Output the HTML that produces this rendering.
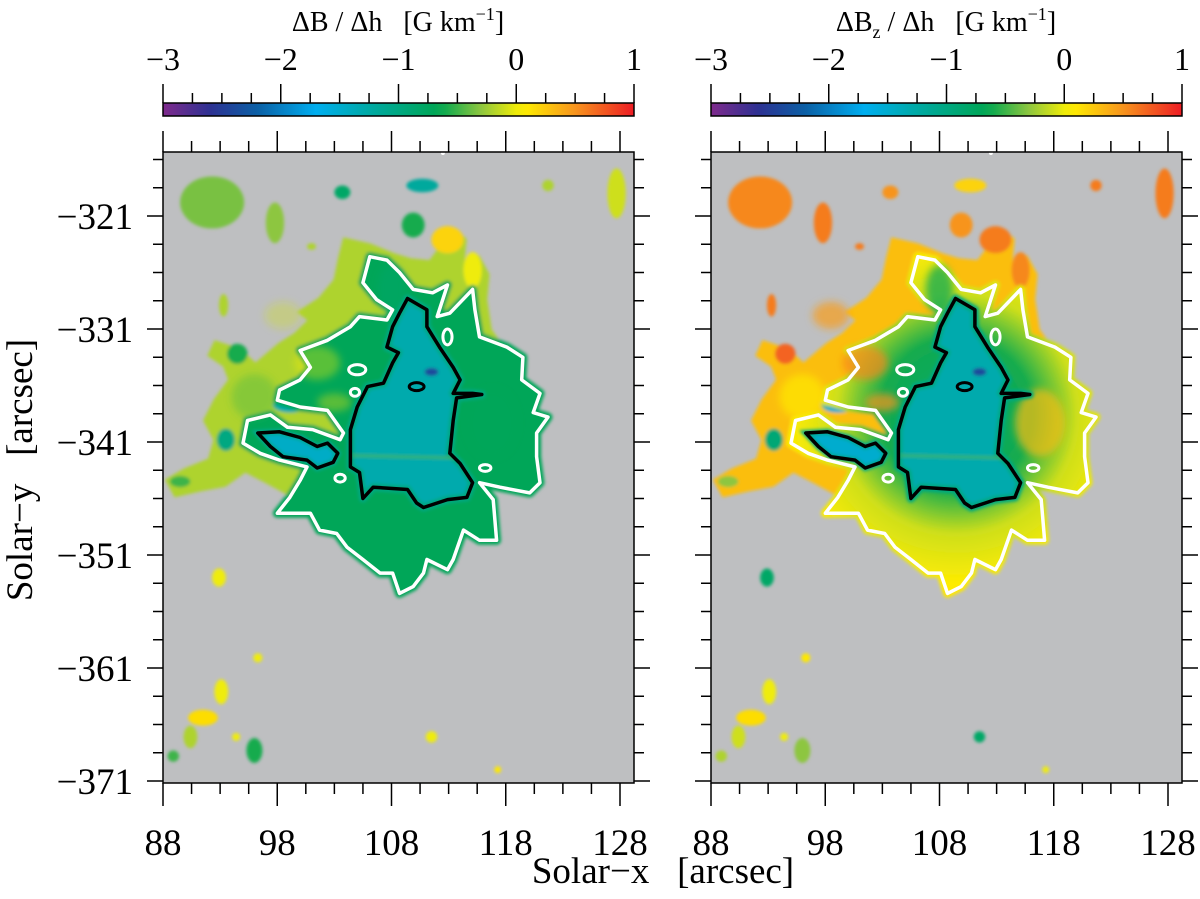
<!DOCTYPE html>
<html><head><meta charset="utf-8">
<style>
html,body{margin:0;padding:0;background:#fff;}
svg{display:block;font-family:"Liberation Serif","DejaVu Serif",serif;}
</style></head>
<body>
<svg id="fig" width="1200" height="899" viewBox="0 0 1200 899" xmlns="http://www.w3.org/2000/svg">
<defs>
<filter id="soft" x="-10%" y="-10%" width="120%" height="120%"><feGaussianBlur stdDeviation="1.6"/></filter>
<filter id="softer" x="-30%" y="-30%" width="160%" height="160%"><feGaussianBlur stdDeviation="4"/></filter>
</defs>
</svg>
<script>
// ---------- data (arcsec / G km^-1) ----------
const xTicks = [88, 98, 108, 118, 128];
const yTicks = [-321, -331, -341, -351, -361, -371];
const cbTicks = [-3, -2, -1, 0, 1];
const panelTitles = ["dB", "dBz"];

const whiteContour = [[106.1,-324.6],[107.6,-324.9],[108.7,-326.0],[109.9,-327.5],[111.6,-327.8],[112.9,-327.1],[112.0,-329.9],[113.1,-329.6],[115.1,-327.5],[115.3,-329.3],[115.7,-331.7],[118.1,-332.6],[119.5,-333.5],[119.4,-335.5],[121.0,-336.7],[120.4,-338.4],[121.7,-338.8],[120.7,-340.2],[120.7,-342.3],[121.0,-344.6],[120.1,-345.5],[117.5,-345.0],[115.7,-344.6],[116.9,-346.1],[117.2,-349.7],[115.7,-349.7],[114.3,-348.8],[113.4,-351.4],[112.9,-352.3],[111.1,-351.4],[110.8,-352.6],[109.9,-353.8],[108.7,-354.4],[108.1,-352.6],[107.0,-352.6],[105.5,-351.4],[104.1,-350.3],[103.2,-349.1],[101.7,-348.8],[100.9,-347.3],[98.0,-347.3],[99.1,-345.9],[100.0,-344.4],[100.6,-343.2],[98.2,-342.6],[96.5,-342.0],[95.0,-341.1],[95.4,-339.1],[97.4,-338.6],[98.9,-339.7],[101.1,-339.9],[103.5,-340.8],[103.8,-340.2],[102.4,-338.2],[100.0,-337.9],[98.0,-337.3],[98.2,-336.4],[100.0,-335.5],[100.9,-334.4],[100.0,-332.9],[102.4,-332.0],[104.4,-330.8],[105.2,-329.9],[107.6,-330.2],[108.1,-329.3],[106.7,-328.4],[105.5,-326.9]];
const umbraContour = [[109.4,-328.3],[111.1,-329.3],[111.1,-330.8],[112.2,-332.6],[113.4,-334.4],[114.0,-335.5],[113.4,-336.7],[115.1,-336.7],[115.9,-336.8],[113.7,-337.1],[113.4,-339.1],[113.1,-342.0],[114.0,-342.9],[115.1,-344.6],[114.6,-345.9],[112.9,-346.1],[110.8,-346.8],[110.2,-346.4],[109.4,-345.2],[106.4,-345.0],[105.5,-346.0],[105.2,-343.7],[104.4,-343.2],[104.4,-339.9],[105.0,-337.9],[105.9,-336.1],[107.3,-335.8],[108.1,-334.0],[108.6,-333.1],[107.6,-332.6],[108.1,-330.8],[108.7,-329.6]];
const islandContour = [[96.3,-340.2],[98.2,-340.1],[100.0,-340.6],[101.5,-341.4],[102.4,-341.1],[103.3,-342.0],[102.9,-342.8],[101.5,-343.3],[100.6,-342.6],[98.5,-342.3],[97.4,-341.4]];
const haloRegion = [[103.9,-323.1],[106.1,-323.6],[108.3,-324.5],[109.6,-324.9],[111.4,-325.1],[112.2,-324.0],[113.6,-322.4],[114.4,-323.1],[114.2,-325.3],[115.6,-324.7],[116.4,-326.2],[116.2,-328.4],[116.6,-331.1],[117.5,-332.4],[110.5,-337.3],[100.0,-346.1],[96.9,-344.4],[95.2,-343.5],[93.4,-344.8],[91.2,-345.2],[89.1,-345.7],[88.4,-344.4],[89.9,-343.5],[92.1,-342.6],[92.6,-340.8],[91.7,-339.1],[92.6,-337.3],[93.9,-335.5],[93.4,-334.2],[92.1,-333.3],[92.6,-332.2],[94.7,-332.9],[96.1,-334.2],[98.2,-332.4],[99.6,-331.5],[100.9,-330.2],[100.0,-329.5],[101.7,-328.4],[103.1,-326.7],[103.5,-324.7]];
const holeX = [105.0, 104.8, 103.5, 112.9, 116.2];
const holeY = [-334.6, -336.6, -344.2, -331.7, -343.3];
const holeRX = [0.75, 0.4, 0.45, 0.4, 0.5];
const holeRY = [0.45, 0.35, 0.35, 0.7, 0.3];
const loopX = [110.2], loopY = [-336.1], loopRX = [0.65], loopRY = [0.35];
const blobX  = [92.3, 97.8, 103.7, 110.7, 121.7, 127.7, 109.9, 112.9, 115.1, 93.3, 101.0, 92.9, 96.3, 91.5, 90.4, 88.9, 93.1, 96.0, 94.4, 111.5, 117.3, 94.5, 93.5, 89.5, 99.1, 111.5, 116.8, 101.5, 103.0, 108.0, 96.0, 98.5];
const blobY  = [-319.8,-321.6,-318.9,-318.3,-318.3,-319.0,-321.8,-323.1,-325.8,-328.9,-323.7,-353.0,-360.1,-365.4,-367.1,-368.8,-363.1,-368.3,-367.1,-367.1,-370.0,-333.2,-340.8,-344.5,-337.7,-334.8,-339.3,-334.0,-337.5,-327.5,-337.0,-329.8];
const blobRX = [2.8, 0.8, 0.7, 1.4, 0.5, 0.8, 1.0, 1.4, 0.8, 0.4, 0.4, 0.6, 0.4, 1.3, 0.6, 0.5, 0.6, 0.7, 0.35, 0.5, 0.3, 0.9, 0.8, 0.9, 1.5, 0.6, 2.2, 2.0, 1.5, 1.2, 2.0, 1.6];
const blobRY = [2.3, 1.8, 0.6, 0.6, 0.5, 2.2, 1.1, 1.2, 1.6, 1.0, 0.3, 0.8, 0.4, 0.7, 1.0, 0.5, 1.1, 1.1, 0.35, 0.5, 0.3, 0.9, 1.0, 0.5, 0.7, 0.35, 3.0, 1.5, 0.8, 2.2, 2.0, 1.2];
const blobValL = [-0.35,-0.3,-0.8,-1.2,-0.2,-0.1,-0.6,0.2,0.0,-0.2,-0.2,0.0,0.0,0.15,-0.2,-0.5,0.0,-0.6,0.0,0.0,0.1,-0.6,-1.0,-0.5,-1.3,-2.4,-0.7,0.05,0.1,-0.9,-0.5,-0.1];
const blobValR = [0.55,0.6,0.5,0.2,0.6,0.6,0.5,0.6,0.55,0.6,0.6,-0.8,0.1,0.15,-0.1,-0.2,0.0,-0.3,0.0,-0.8,0.0,0.7,-0.9,-0.3,-1.5,-2.4,0.3,0.55,0.5,-0.7,0.1,0.45];
const haloVal = [-0.2, 0.3];
const penumbraVal = [-0.7, -0.05];
const umbraVal = [-1.3, -1.3];
const islandVal = [-1.45, -1.5];
const cmapVals = [-3, -2.6, -2.2, -1.7, -1.2, -0.65, -0.3, 0.05, 0.5, 1];
const cmapCols = ["#7f2a8c","#2e3192","#0b5fa5","#00aeef","#00a99d","#00a651","#8dc63f","#fff200","#f7941d","#ed1c24"];

// ---------- helpers ----------
const NS = "http://www.w3.org/2000/svg";
const svg = document.getElementById("fig");
const defs = svg.querySelector("defs");
function mk(tag, attrs, parent) {
  const e = document.createElementNS(NS, tag);
  for (const k in attrs) e.setAttribute(k, attrs[k]);
  (parent || svg).appendChild(e);
  return e;
}
function tsp(parent, txt, attrs) { const t = mk("tspan", attrs || {}, parent); t.textContent = txt; return t; }
function hex2rgb(h){return [parseInt(h.substr(1,2),16),parseInt(h.substr(3,2),16),parseInt(h.substr(5,2),16)];}
function cm(v) {
  if (v <= cmapVals[0]) return cmapCols[0];
  for (let i = 1; i < cmapVals.length; i++) {
    if (v <= cmapVals[i]) {
      const t = (v - cmapVals[i-1]) / (cmapVals[i] - cmapVals[i-1]);
      const a = hex2rgb(cmapCols[i-1]), b = hex2rgb(cmapCols[i]);
      return "rgb(" + a.map((c,j)=>Math.round(c + (b[j]-c)*t)).join(",") + ")";
    }
  }
  return cmapCols[cmapCols.length-1];
}
const X0 = 88, Y0 = -321, PX = 11.425, PY = 11.3;
const plotL = 163, plotR = 634, plotT = 152, plotB = 783;
function sx(x, ox) { return 163 + ox + (x - X0) * PX; }
function sy(y) { return 216 + (Y0 - y) * PY; }
function cbx(v, ox) { return 163 + ox + (v + 3) * 117.75; }
function pts(arr, ox) { return arr.map(p => sx(p[0], ox).toFixed(1) + "," + sy(p[1]).toFixed(1)).join(" "); }
const SP = "\u00a0\u00a0\u00a0";

// ---------- panels ----------
[0, 1].forEach(function (pi) {
  const ox = pi * 548;
  const g = mk("g", {});
  
  

  const gid = "cbgrad" + pi;
  const lg = mk("linearGradient", {id: gid, x1: "0", x2: "1", y1: "0", y2: "0"}, defs);
  for (let v = -3; v <= 1.001; v += 0.1) mk("stop", {offset: ((v + 3) / 4).toFixed(3), "stop-color": cm(v)}, lg);
  const cb = mk("rect", {x: cbx(-3, ox), y: 103, width: cbx(1, ox) - cbx(-3, ox), height: 13, fill: "url(#" + gid + ")", stroke: "#000", "stroke-width": 1.5}, g);
  
  
  for (let v = -3; v <= 1.001; v += 0.25) {
    const major = Math.abs(v - Math.round(v)) < 1e-6;
    mk("line", {x1: cbx(v, ox), x2: cbx(v, ox), y1: major ? 84 : 93, y2: 103, stroke: "#000", "stroke-width": 1.5}, g);
  }
  cbTicks.forEach(function (v) {
    const t = mk("text", {x: cbx(v, ox), y: 70, "font-size": 32, "text-anchor": "middle"}, g);
    t.textContent = (v < 0 ? "\u2212" : "") + Math.abs(v);
    
    
  });
  const title = mk("text", {x: 398 + ox, y: 31, "font-size": 28, "text-anchor": "middle"}, g);
  
  
  if (panelTitles[pi] === "dB") {
    tsp(title, "\u0394B / \u0394h" + SP + "[G km");
  } else {
    tsp(title, "\u0394B");
    tsp(title, "z", {dy: 7, "font-size": 18});
    tsp(title, " / \u0394h" + SP + "[G km", {dy: -7});
  }
  tsp(title, "\u22121", {dy: -11, "font-size": 18});
  tsp(title, "]", {dy: 11});

  const cid = "clip" + pi;
  const cp = mk("clipPath", {id: cid}, defs);
  mk("rect", {x: plotL + ox, y: plotT, width: plotR - plotL, height: plotB - plotT}, cp);
  const map = mk("g", {"clip-path": "url(#" + cid + ")"}, g);
  
  
  mk("rect", {x: plotL + ox, y: plotT, width: plotR - plotL, height: plotB - plotT, fill: "#bebfc1"}, map);

  const fills = mk("g", {filter: "url(#soft)"}, map);
  const halo = mk("polygon", {points: pts(haloRegion, ox), fill: cm(haloVal[pi]), stroke: cm(haloVal[pi]), "stroke-width": 4}, fills);
  
  

  for (let i = 0; i < 26; i++) {
    const v = pi ? blobValR[i] : blobValL[i];
    const b = mk("ellipse", {cx: sx(blobX[i], ox), cy: sy(blobY[i]), rx: blobRX[i] * PX, ry: blobRY[i] * PY, fill: cm(v)}, fills);
    
    
  }

  let penFill = cm(penumbraVal[pi]);
  if (pi === 1) {
    const rg = mk("radialGradient", {id: "pen1", gradientUnits: "userSpaceOnUse", cx: sx(109.5, ox), cy: sy(-338.5), r: 200}, defs);
    mk("stop", {offset: "0", "stop-color": cm(-0.85)}, rg);
    mk("stop", {offset: "0.38", "stop-color": cm(-0.6)}, rg);
    mk("stop", {offset: "0.6", "stop-color": cm(-0.1)}, rg);
    mk("stop", {offset: "0.85", "stop-color": cm(0.08)}, rg);
    mk("stop", {offset: "1", "stop-color": cm(0.15)}, rg);
    penFill = "url(#pen1)";
  }
  const pen = mk("polygon", {points: pts(whiteContour, ox), fill: penFill, stroke: penFill, "stroke-width": 9, "stroke-linejoin": "round"}, fills);
  
  

  const extra = mk("g", {filter: "url(#softer)"}, map);
  for (let i = 26; i < blobX.length; i++) {
    const v = pi ? blobValR[i] : blobValL[i];
    const b = mk("ellipse", {cx: sx(blobX[i], ox), cy: sy(blobY[i]), rx: blobRX[i] * PX, ry: blobRY[i] * PY, fill: cm(v), opacity: pi ? 0.7 : 0.35}, extra);
    
    
  }

  const fills2 = mk("g", {filter: "url(#soft)"}, map);
  const um = mk("polygon", {points: pts(umbraContour, ox), fill: cm(umbraVal[pi]), stroke: cm(-1.0), "stroke-width": 8, "stroke-linejoin": "round"}, fills2);
  
  
  const isl = mk("polygon", {points: pts(islandContour, ox), fill: cm(islandVal[pi]), stroke: cm(-1.1), "stroke-width": 6}, fills2);
  
  
  const spot = mk("ellipse", {cx: sx(blobX[25], ox), cy: sy(blobY[25]), rx: blobRX[25] * PX, ry: blobRY[25] * PY, fill: cm(blobValL[25])}, fills2);
  
  
  mk("line", {x1: sx(104.6, ox), x2: sx(113.5, ox), y1: sy(-342.2), y2: sy(-342.4), stroke: cm(-0.45), "stroke-width": 3, opacity: 0.6}, fills2);

  const wc = mk("polygon", {points: pts(whiteContour, ox), fill: "none", stroke: "#fff", "stroke-width": 3.5, "stroke-linejoin": "round"}, map);
  
  
  for (let i = 0; i < holeX.length; i++) {
    const h = mk("ellipse", {cx: sx(holeX[i], ox), cy: sy(holeY[i]), rx: holeRX[i] * PX, ry: holeRY[i] * PY, fill: "none", stroke: "#fff", "stroke-width": 3}, map);
    
    
  }
  const bc = mk("polygon", {points: pts(umbraContour, ox), fill: "none", stroke: "#000", "stroke-width": 3.5, "stroke-linejoin": "round"}, map);
  
  
  const ic = mk("polygon", {points: pts(islandContour, ox), fill: "none", stroke: "#000", "stroke-width": 3.5, "stroke-linejoin": "round"}, map);
  
  
  for (let i = 0; i < loopX.length; i++) {
    const l = mk("ellipse", {cx: sx(loopX[i], ox), cy: sy(loopY[i]), rx: loopRX[i] * PX, ry: loopRY[i] * PY, fill: "none", stroke: "#000", "stroke-width": 3}, map);
    
    
  }
  mk("circle", {cx: sx(112.5, ox), cy: plotT + 1, r: 2, fill: "#fff"}, map);

  const fr = mk("rect", {x: plotL + ox, y: plotT, width: plotR - plotL, height: plotB - plotT, fill: "none", stroke: "#000", "stroke-width": 1.5}, g);
  
  

  for (let x = 88; x <= 129.2; x += 2.5) {
    const major = Math.abs((x - 88) % 10) < 1e-6;
    const px = sx(x, ox);
    mk("line", {x1: px, x2: px, y1: plotB, y2: plotB + (major ? 23 : 11), stroke: "#000", "stroke-width": 1.5}, g);
    mk("line", {x1: px, x2: px, y1: plotT, y2: plotT - (major ? 21 : 11), stroke: "#000", "stroke-width": 1.5}, g);
  }
  xTicks.forEach(function (x) {
    const t = mk("text", {x: sx(x, ox), y: 855, "font-size": 37, "text-anchor": "middle"}, g);
    t.textContent = x;
    
    
  });
  for (let y = -371; y <= -315.4; y += 2.5) {
    const major = Math.abs((y + 371) % 10) < 1e-6;
    const py = sy(y);
    mk("line", {x1: plotL + ox, x2: plotL + ox - (major ? 16 : 10), y1: py, y2: py, stroke: "#000", "stroke-width": 1.5}, g);
    mk("line", {x1: plotR + ox, x2: plotR + ox + (major ? 16 : 10), y1: py, y2: py, stroke: "#000", "stroke-width": 1.5}, g);
  }
  if (pi === 0) {
    yTicks.forEach(function (y) {
      const t = mk("text", {x: 133, y: sy(y) + 13, "font-size": 37, "text-anchor": "end"}, g);
      t.textContent = "\u2212" + Math.abs(y);
      
      
    });
  }
});

const xt = mk("text", {x: 663, y: 883, "font-size": 37, "text-anchor": "middle"});
xt.textContent = "Solar\u2212x" + SP + "[arcsec]";


const yt = mk("text", {x: 0, y: 0, "font-size": 37, "text-anchor": "middle", transform: "translate(32,470) rotate(-90)"});
yt.textContent = "Solar\u2212y" + SP + "[arcsec]";


</script>
</body></html>
